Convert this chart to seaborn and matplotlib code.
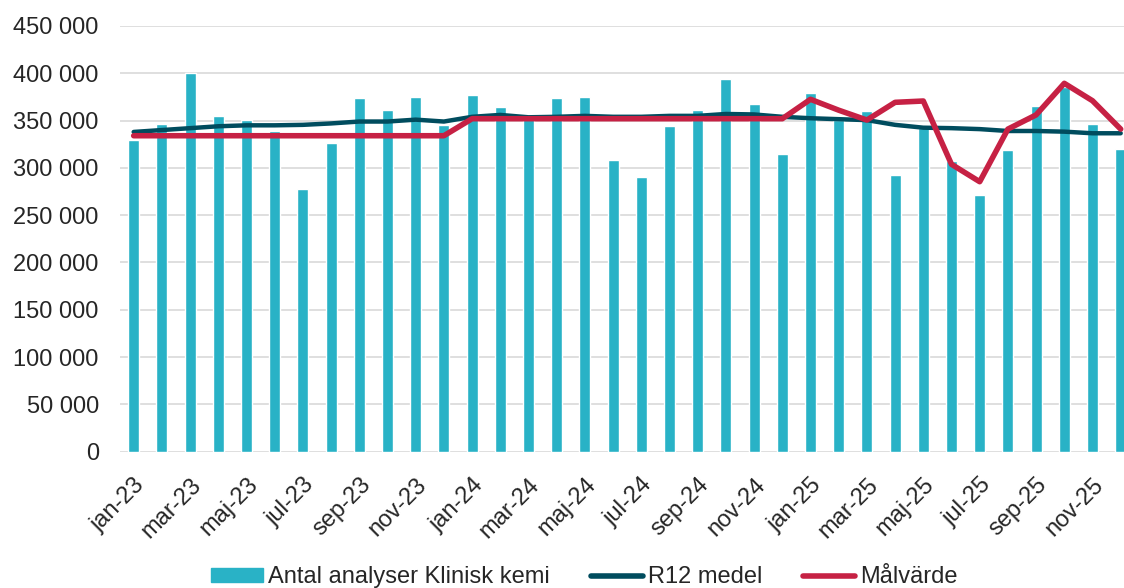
import numpy as np
import pandas as pd
import matplotlib.pyplot as plt
import seaborn as sns

### DATA ###
months = [f"{m}-{y}" for y in ["23", "24", "25"]
          for m in ["jan", "feb", "mar", "apr", "maj", "jun",
                    "jul", "aug", "sep", "okt", "nov", "dec"]]

antal = [330000, 346000, 400000, 355000, 351000, 339000,
         278000, 326000, 374000, 361000, 375000, 345000,
         377000, 364000, 352000, 374000, 375000, 308000,
         290000, 344000, 361000, 394000, 368000, 315000,
         379000, 351000, 360000, 293000, 342000, 307000,
         271000, 319000, 365000, 386000, 346000, 320000]

r12 = [338000, 340000, 342000, 344000, 345000, 345000,
       345500, 347000, 349000, 349000, 351000, 349000,
       354000, 356000, 353500, 354000, 355000, 354000,
       354000, 355000, 355000, 357000, 356500, 354000,
       352500, 351500, 350500, 345500, 342500, 342000,
       341000, 339000, 339000, 338300, 336600, 336600]

malvarde = [334000] * 12 + [352000] * 12 + [
    372500, 361000, 350600, 369300, 370700, 303800,
    285400, 341000, 356000, 389400, 371000, 341000]

df = pd.DataFrame({"Månad": months, "Antal": antal,
                   "R12": r12, "Mål": malvarde, "pos": np.arange(len(months))})

### STYLE ###
sns.set_style("white")
plt.rcParams["font.family"] = ["Liberation Sans", "DejaVu Sans"]
BAR_COLOR = "#29B2C6"
R12_COLOR = "#004C5E"
MAL_COLOR = "#C62144"
FS = 17

fig = plt.figure(figsize=(11.24, 5.88), dpi=100)
ax = fig.add_axes([0.1064, 0.2318, 0.9032, 0.724])

### PLOT ###
sns.barplot(data=df, x="Månad", y="Antal", color=BAR_COLOR, width=0.39,
            saturation=1, ax=ax, zorder=2)
sns.lineplot(data=df, x="pos", y="R12", color=R12_COLOR, linewidth=3.2,
             ax=ax, zorder=3)
sns.lineplot(data=df, x="pos", y="Mål", color=MAL_COLOR, linewidth=4,
             ax=ax, zorder=4)

ax.set_xlim(-0.5, len(months) - 0.5)
ax.set_ylim(0, 450000)
ax.set_yticks(np.arange(0, 450001, 50000))
ax.set_yticklabels([f"{v:,}".replace(",", " ") for v in range(0, 450001, 50000)],
                   fontsize=FS)
ax.set_xticks(np.arange(0, len(months), 2))
ax.set_xticklabels(months[::2], rotation=45, ha="right",
                   rotation_mode="anchor", fontsize=FS)
ax.tick_params(axis="y", length=0, pad=15)
ax.tick_params(axis="x", length=0, pad=16)
ax.yaxis.grid(True, color="#D9D9D9", linewidth=1.2, zorder=0)
ax.set_axisbelow(True)
for s in ax.spines.values():
    s.set_visible(False)
ax.set_xlabel("")
ax.set_ylabel("")

# LEGEND (bars first, like the original)
handles = [plt.Rectangle((0, 0), 1, 1, color=BAR_COLOR),
           plt.Line2D([], [], color=R12_COLOR, linewidth=4, solid_capstyle="round"),
           plt.Line2D([], [], color=MAL_COLOR, linewidth=4, solid_capstyle="round")]
labels = ["Antal analyser Klinisk kemi", "R12 medel", "Målvärde"]
ax.legend(handles, labels, loc="center", bbox_to_anchor=(0.52, 0.018),
          bbox_transform=fig.transFigure, ncol=3, frameon=False, fontsize=FS,
          handlelength=2.2, handletextpad=0.2, columnspacing=1.75, handleheight=0.5)

fig.savefig("out.png", dpi=100)
